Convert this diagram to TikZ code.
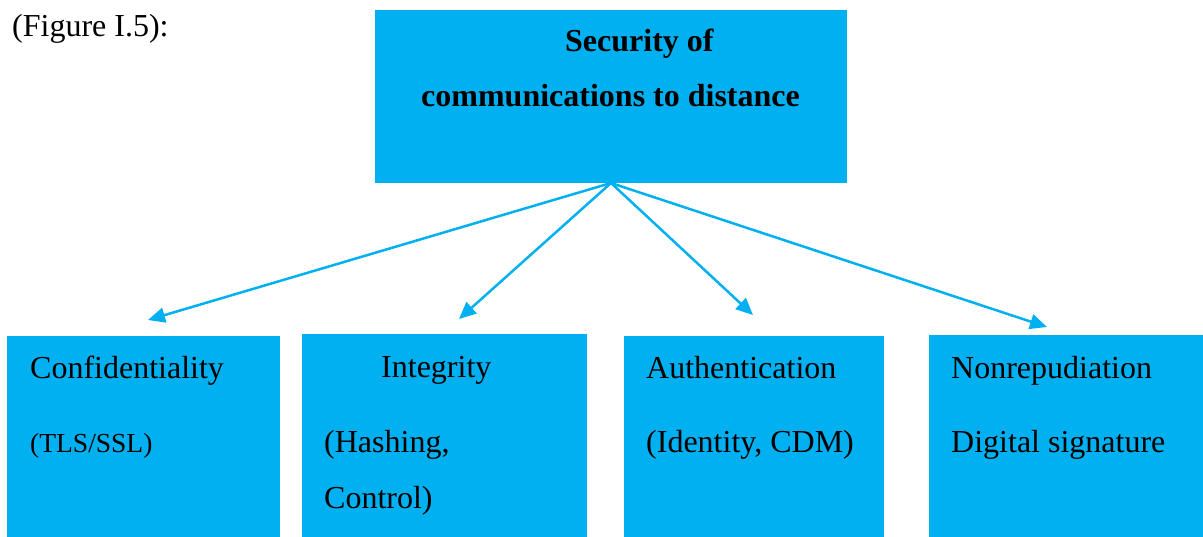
\documentclass[tikz,border=0pt]{standalone}
\usepackage{fontspec}
\setmainfont{Liberation Serif}
\usetikzlibrary{arrows.meta}
\definecolor{skyfill}{HTML}{00B0F0}
\begin{document}
\begin{tikzpicture}[x=1pt,y=-1pt,
  panel/.style={fill=skyfill,draw=none,anchor=north west,inner sep=0pt},
  label/.style={anchor=base west,inner sep=0pt,font=\fontsize{32}{38}\selectfont},
  small/.style={anchor=base west,inner sep=0pt,font=\fontsize{27.5}{33}\selectfont},
  link/.style={draw=skyfill,line width=2.5pt,-{Triangle[length=17pt,width=15pt]}}]
\useasboundingbox (0,0) rectangle (1203,537);

% caption
\node[label] (cap) at (12,37) {(Figure I.5):};

% top box
\node[panel,minimum width=472pt,minimum height=173pt] (top) at (375,10) {};
\node[label,font=\fontsize{32}{38}\selectfont\bfseries] (t1) at (565,52) {Security of};
\node[label,font=\fontsize{32}{38}\selectfont\bfseries] (t2) at (421,107) {communications to distance};

% bottom boxes
\node[panel,minimum width=273pt,minimum height=201pt] (conf) at (7,336) {};
\node[panel,minimum width=285pt,minimum height=203pt] (integ) at (302,334) {};
\node[panel,minimum width=260pt,minimum height=201pt] (auth) at (624,336) {};
\node[panel,minimum width=274pt,minimum height=202pt] (nonr) at (929,335) {};

\node[label] (c1) at (30,379) {Confidentiality};
\node[small] (c2) at (30,453) {(TLS/SSL)};
\node[label] (i1) at (381,378) {Integrity};
\node[label] (i2) at (324,453) {(Hashing,};
\node[label] (i3) at (324,508) {Control)};
\node[label] (a1) at (646,379) {Authentication};
\node[label] (a2) at (646,453) {(Identity, CDM)};
\node[label] (n1) at (951,379) {Nonrepudiation};
\node[label] (n2) at (951,453) {Digital signature};

% connectors
\coordinate (hub) at (611,183);
\coordinate (e1) at (148,320);
\coordinate (e2) at (459,319);
\coordinate (e3) at (753,315);
\coordinate (e4) at (1047,327);
\draw[link] (hub) -- (e1);
\draw[link] (hub) -- (e2);
\draw[link] (hub) -- (e3);
\draw[link] (hub) -- (e4);
\end{tikzpicture}
\end{document}
